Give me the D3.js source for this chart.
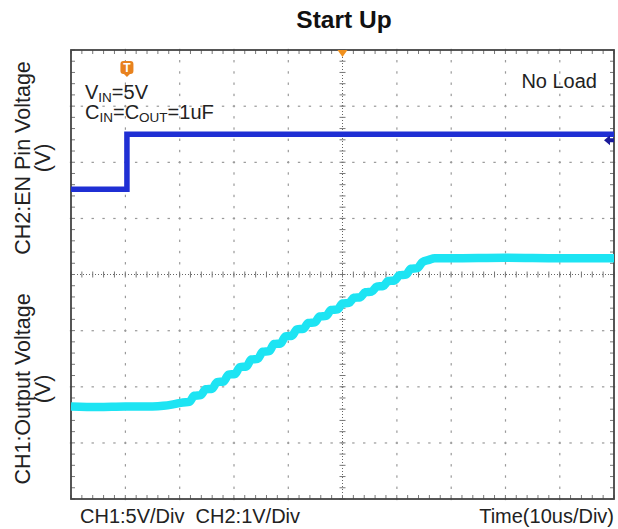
<!DOCTYPE html>
<html><head><meta charset="utf-8">
<script src="https://cdn.jsdelivr.net/npm/d3@7"></script>
<style>body{margin:0;background:#fff}svg{display:block;font-family:"Liberation Sans",Arial,sans-serif}</style>
</head><body><svg id="c" width="618" height="529"></svg>
<script>
// time in microseconds (10 us/div), amplitude in screen divisions from centre
const title = "Start Up";
const yLabelCH2 = ["CH2:EN Pin Voltage", "(V)"];
const yLabelCH1 = ["CH1:Output Voltage", "(V)"];
const bottomLeft = "CH1:5V/Div  CH2:1V/Div";
const bottomRight = "Time(10us/Div)";
const noteLoad = "No Load";
const ch2Data = [[0,1.52],[10.3,1.52],[10.3,2.5],[100,2.5]];
const ch1Data = [
 [0,-2.35],[5,-2.36],[10,-2.35],[15,-2.35],[17,-2.34],[19,-2.31],
 [20.6,-2.28],[21.8,-2.27],[22.7,-2.16],[23.9,-2.15],[24.8,-2.045],[26.0,-2.035],
 [26.9,-1.917],[28.1,-1.907],[29.0,-1.784],[30.2,-1.774],[31.1,-1.65],[32.3,-1.64],
 [33.2,-1.513],[34.4,-1.503],[35.3,-1.376],[36.5,-1.366],[37.4,-1.239],[38.6,-1.229],
 [39.5,-1.102],[40.7,-1.092],[41.6,-0.978],[42.8,-0.968],[43.7,-0.863],[44.9,-0.853],
 [45.8,-0.747],[47.0,-0.737],[47.9,-0.631],[49.1,-0.621],[50.0,-0.516],[51.2,-0.506],
 [52.1,-0.415],[53.3,-0.405],[54.2,-0.315],[55.4,-0.305],[56.3,-0.216],[57.5,-0.206],
 [58.4,-0.116],[59.6,-0.106],[60.5,-0.012],[61.7,-0.002],[62.6,0.103],[63.8,0.113],
 [64.7,0.219],[65.9,0.26],[67,0.29],[70,0.29],[80,0.30],[90,0.29],[100,0.29]
];
const triggerTime = 10.3;
const centreTime = 50;

const svg = d3.select("#c");
const x = d3.scaleLinear().domain([0,100]).range([71,614]);
const y = d3.scaleLinear().domain([-4,4]).range([499,50]);

// title
svg.append("text").attr("x",344).attr("y",28).attr("text-anchor","middle")
  .attr("font-size",24.5).attr("font-weight","bold").attr("fill","#111").text(title);

const g = svg.append("g");
const minorT = d3.range(0,100.001,2);
const minorV = d3.range(-4,4.001,0.2);
const gridCol = "#999";
// dotted grid
d3.range(10,100,10).forEach(t=>{
  if (t===50) return;
  minorV.forEach(v=>g.append("rect").attr("x",x(t)-0.5).attr("y",y(v)-1.2).attr("width",1.2).attr("height",2.4).attr("fill",gridCol));
});
d3.range(-3,4,1).forEach(v=>{
  if (v===0) return;
  minorT.forEach(t=>g.append("rect").attr("x",x(t)-1.2).attr("y",y(v)-0.5).attr("width",2.4).attr("height",1.2).attr("fill",gridCol));
});
// centre crosshair
g.append("line").attr("x1",x(0)).attr("x2",x(100)).attr("y1",y(0)).attr("y2",y(0))
  .attr("stroke","#666").attr("stroke-width",1).attr("stroke-dasharray","1,2");
g.append("line").attr("x1",x(50)).attr("x2",x(50)).attr("y1",y(-4)).attr("y2",y(4))
  .attr("stroke","#666").attr("stroke-width",1).attr("stroke-dasharray","1,2");
minorT.forEach(t=>g.append("line").attr("x1",x(t)).attr("x2",x(t)).attr("y1",y(0)-3).attr("y2",y(0)+3).attr("stroke","#777").attr("stroke-width",1));
minorV.forEach(v=>g.append("line").attr("y1",y(v)).attr("y2",y(v)).attr("x1",x(50)-3).attr("x2",x(50)+3).attr("stroke","#777").attr("stroke-width",1));
// frame ticks
minorT.forEach(t=>{
  g.append("line").attr("x1",x(t)).attr("x2",x(t)).attr("y1",y(4)).attr("y2",y(4)+4).attr("stroke","#777");
  g.append("line").attr("x1",x(t)).attr("x2",x(t)).attr("y1",y(-4)).attr("y2",y(-4)-4).attr("stroke","#777");
});
minorV.forEach(v=>{
  g.append("line").attr("y1",y(v)).attr("y2",y(v)).attr("x1",x(0)).attr("x2",x(0)+4).attr("stroke","#777");
  g.append("line").attr("y1",y(v)).attr("y2",y(v)).attr("x1",x(100)).attr("x2",x(100)-4).attr("stroke","#777");
});
g.append("rect").attr("x",x(0)).attr("y",y(4)).attr("width",x(100)-x(0)).attr("height",y(-4)-y(4))
  .attr("fill","none").attr("stroke","#444").attr("stroke-width",1.8);

// traces
const line = d3.line().x(d=>x(d[0])).y(d=>y(d[1]));
svg.append("path").datum(ch1Data).attr("d",line.curve(d3.curveMonotoneX)).attr("fill","none")
  .attr("stroke","#1de4f3").attr("stroke-width",8.5).attr("stroke-linejoin","round");
svg.append("path").datum(ch2Data).attr("d",d3.line().x(d=>x(d[0])).y(d=>y(d[1]))).attr("fill","none")
  .attr("stroke","#1f2fd4").attr("stroke-width",5.5);
// CH2 reference arrow at right edge
svg.append("path").attr("d",`M${x(100)-10},${y(2.5)+6} l6,-5 v3 h4 v4 h-4 v3 z`).attr("fill","#1a1a9a");

// trigger markers
const tx = x(triggerTime);
const tm = svg.append("g").attr("transform",`translate(${tx},61)`);
tm.append("rect").attr("x",-6.5).attr("y",0).attr("width",13).attr("height",13).attr("rx",3).attr("fill","#e8821e");
tm.append("path").attr("d","M-4,12 L0,16 L4,12 Z").attr("fill","#e8821e");
tm.append("text").attr("x",0).attr("y",11).attr("text-anchor","middle").attr("font-size",12).attr("font-weight","bold").attr("fill","#fff").text("T");
svg.append("path").attr("d",`M${x(centreTime)-5},${y(4)} L${x(centreTime)+5},${y(4)} L${x(centreTime)},${y(4)+7} Z`).attr("fill","#f0901e");

// annotations
const ann = svg.append("g").attr("font-size",20).attr("fill","#222");
const t1 = ann.append("text").attr("x",85).attr("y",99);
t1.append("tspan").text("V");
t1.append("tspan").attr("font-size",13.5).attr("dy",3).text("IN");
t1.append("tspan").attr("dy",-3).text("=5V");
const t2 = ann.append("text").attr("x",85).attr("y",119);
t2.append("tspan").text("C");
t2.append("tspan").attr("font-size",13.5).attr("dy",3).text("IN");
t2.append("tspan").attr("dy",-3).text("=C");
t2.append("tspan").attr("font-size",13.5).attr("dy",3).text("OUT");
t2.append("tspan").attr("dy",-3).text("=1uF");
ann.append("text").attr("x",597).attr("y",88).attr("text-anchor","end").text(noteLoad);

// axis labels
function vlab(lines, cy){
  const gg = svg.append("g").attr("font-size",21.5).attr("fill","#222");
  lines.forEach((s,i)=>{
    gg.append("text").attr("transform",`translate(${30+i*20},${cy}) rotate(-90)`)
      .attr("text-anchor","middle").text(s);
  });
}
vlab(yLabelCH2, 158);
vlab(yLabelCH1, 389);
svg.append("text").attr("x",80).attr("y",523).attr("font-size",20).attr("fill","#222").style("white-space","pre").text(bottomLeft);
svg.append("text").attr("x",614).attr("y",523).attr("text-anchor","end").attr("font-size",20).attr("fill","#222").text(bottomRight);
</script></body></html>
